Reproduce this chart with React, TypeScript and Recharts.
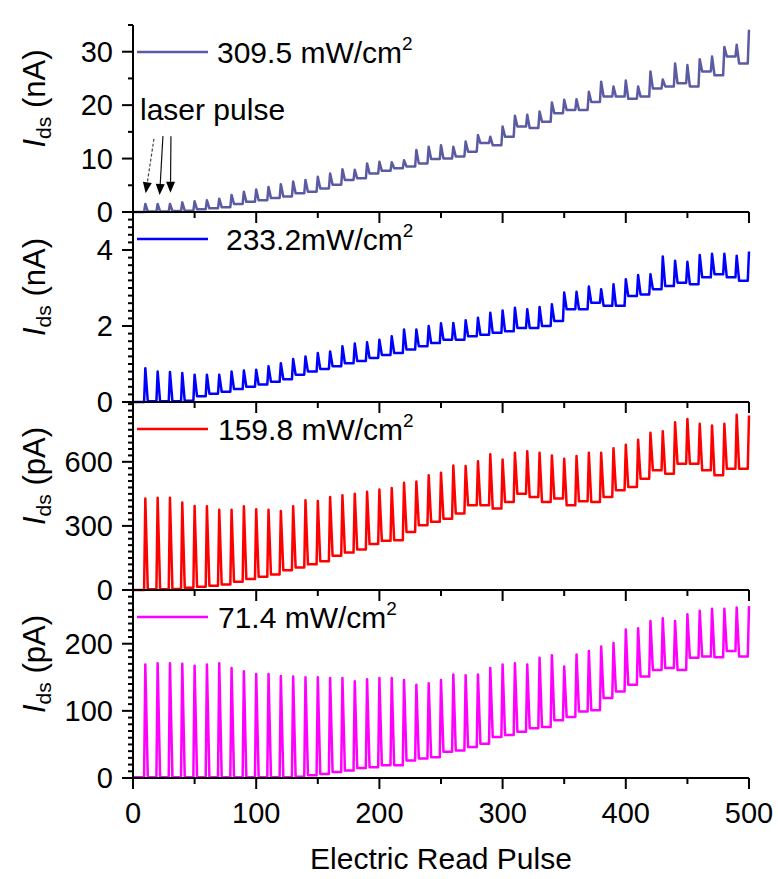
import React from 'react';
import { LineChart, Line, XAxis, YAxis, Legend, ReferenceLine } from 'recharts';

// ---------- data ----------
const pulseX = [10, 20, 30, 40, 50, 60, 70, 80, 90, 100, 110, 120, 130, 140, 150, 160, 170, 180, 190, 200,
  210, 220, 230, 240, 250, 260, 270, 280, 290, 300, 310, 320, 330, 340, 350, 360, 370, 380, 390, 400,
  410, 420, 430, 440, 450, 460, 470, 480, 490, 500];

const xMajorTicks = [0, 100, 200, 300, 400, 500];
const xMinorTicks = [50, 150, 250, 350, 450];

const seriesNames = ['309.5 mW/cm²', '233.2mW/cm²', '159.8 mW/cm²', '71.4 mW/cm²'];
const seriesUnits = ['nA', 'nA', 'pA', 'pA'];

// 309.5 mW/cm2 (nA): peak at each laser pulse, settled value after each pulse (first = start)
const p1Peak = [1.5, 1.5, 1.5, 1.8, 2.0, 2.2, 2.5, 3.2, 3.8, 4.2,
  4.7, 5.2, 5.7, 6.0, 6.6, 7.2, 8.0, 7.9, 9.1, 9.4,
  9.3, 9.7, 11.6, 12.2, 12.5, 12.2, 13.2, 14.4, 14.1, 16.0,
  18.0, 18.2, 18.8, 20.5, 21.0, 21.1, 22.5, 24.4, 23.5, 24.6,
  23.5, 26.3, 24.8, 27.8, 27.5, 28.6, 29.1, 30.9, 31.3, 34.1];
const p1Base = [0.0, 0.1, 0.1, 0.2, 0.25, 0.5, 0.7, 0.9, 1.5, 1.9,
  2.2, 2.6, 2.9, 3.5, 3.8, 4.4, 5.1, 6.0, 6.3, 7.2,
  7.7, 8.2, 8.5, 9.1, 9.9, 10.0, 10.4, 11.3, 12.9, 12.5,
  14.1, 16.0, 15.7, 16.9, 18.5, 19.1, 19.1, 20.6, 21.6, 21.6,
  21.2, 21.6, 23.1, 23.5, 24.1, 23.5, 26.3, 25.6, 29.1, 27.8];

// 233.2 mW/cm2 (nA)
const p2Peak = [0.89, 0.80, 0.79, 0.76, 0.72, 0.72, 0.72, 0.80, 0.83, 0.85,
  0.94, 1.02, 1.13, 1.20, 1.29, 1.33, 1.47, 1.54, 1.57, 1.64,
  1.73, 1.91, 1.91, 2.00, 2.07, 2.08, 2.15, 2.22, 2.35, 2.41,
  2.48, 2.44, 2.50, 2.57, 2.88, 2.90, 3.04, 2.97, 3.10, 3.23,
  3.34, 3.36, 3.83, 3.72, 3.69, 3.87, 3.90, 3.90, 3.85, 3.96];
const p2Base = [0.0, 0.02, 0.02, 0.02, 0.03, 0.15, 0.22, 0.27, 0.34, 0.40,
  0.46, 0.53, 0.60, 0.72, 0.80, 0.87, 0.94, 1.02, 1.08, 1.16,
  1.24, 1.29, 1.38, 1.47, 1.55, 1.64, 1.64, 1.73, 1.77, 1.82,
  1.86, 1.95, 1.95, 2.00, 2.13, 2.44, 2.44, 2.61, 2.53, 2.53,
  2.79, 2.83, 2.97, 3.05, 3.14, 3.10, 3.28, 3.36, 3.28, 3.19];

// 159.8 mW/cm2 (pA)
const p3Peak = [428, 432, 432, 409, 393, 392, 376, 376, 392, 378,
  376, 370, 392, 420, 417, 435, 443, 451, 460, 470,
  477, 502, 508, 537, 549, 583, 580, 603, 635, 611,
  642, 650, 642, 630, 614, 627, 642, 642, 664, 680,
  703, 736, 743, 785, 801, 778, 770, 778, 820, 817];
const p3Base = [0, 3, 3, 5, 11, 15, 20, 26, 39, 51,
  62, 73, 93, 105, 120, 135, 160, 175, 190, 215,
  230, 233, 272, 303, 319, 334, 358, 397, 397, 381,
  412, 451, 435, 412, 428, 397, 415, 412, 435, 467,
  482, 521, 560, 544, 591, 591, 560, 537, 568, 568];

// 71.4 mW/cm2 (pA)
const p4Peak = [169, 171, 171, 170, 167, 169, 171, 164, 159, 155,
  155, 152, 151, 150, 150, 149, 149, 144, 147, 149,
  149, 146, 139, 141, 146, 154, 153, 154, 164, 169,
  171, 169, 179, 183, 166, 184, 189, 196, 201, 221,
  223, 234, 238, 234, 244, 249, 252, 252, 254, 256];
const p4Base = [1, 1, 1, 1, 1, 1, 1, 1, 1, 1,
  1, 1, 1, 2, 4, 6, 9, 11, 15, 16,
  19, 19, 26, 29, 31, 39, 41, 46, 51, 61,
  64, 69, 74, 76, 86, 91, 99, 101, 119, 129,
  139, 151, 161, 164, 161, 179, 181, 180, 189, 181];

// y-axis tick labels per panel
const p1YMajor = [0, 10, 20, 30];
const p2YMajor = [0, 2, 4];
const p3YMajor = [0, 300, 600];
const p4YMajor = [0, 100, 200];

// "laser pulse" arrows (panel 1 data units): start / tip
const arrowStarts = [[17.0, 13.7], [24.3, 14.2], [30.8, 14.2]];
const arrowTips = [[10.3, 3.5], [21.6, 3.2], [30.4, 3.6]];

// ---------- helpers ----------
const FONT = '"Liberation Sans", Arial, Helvetica, sans-serif';
const W = 778;
const RIGHT = 29;
const YAXIS_W = 133;
const Y_TICK_SIZE = 11;
const Y_TICK_MARGIN = 9;
const X_TICK_SIZE = 11;
const X_TICK_MARGIN = 13;
const TICK_FONT = 29;

function buildSeries(base: number[], peak: number[]) {
  const rows: { x: number; y: number }[] = [{ x: 0, y: base[0] }];
  pulseX.forEach((px, k) => {
    rows.push({ x: px - 1, y: base[k] });
    rows.push({ x: px, y: peak[k] });
    if (k + 1 < base.length) rows.push({ x: px + 2, y: base[k + 1] });
  });
  return rows;
}

function buildTicks(max: number, step: number) {
  const out: number[] = [];
  const n = Math.floor(max / step + 1e-6);
  for (let i = 0; i <= n; i++) out.push(Math.round(i * step * 1000) / 1000);
  return out;
}

const XTick = (props: any) => {
  const { x, y, payload, showLabel } = props;
  const axisY = y - X_TICK_SIZE - X_TICK_MARGIN;
  const major = xMajorTicks.includes(payload.value);
  return (
    <g>
      <line x1={x} x2={x} y1={axisY} y2={axisY + (major ? 11 : 6)} stroke="#000" strokeWidth={2} />
      {showLabel && major && (
        <text x={x} y={y} dy="0.71em" textAnchor="middle" fontSize={TICK_FONT} fill="#000" fontFamily={FONT}>
          {payload.value}
        </text>
      )}
    </g>
  );
};

const YTick = (props: any) => {
  const { x, y, payload, majors } = props;
  const axisX = x + Y_TICK_SIZE + Y_TICK_MARGIN;
  const major = majors.some((m: number) => Math.abs(m - payload.value) < 1e-6);
  return (
    <g>
      <line x1={axisX - (major ? 11 : 5)} x2={axisX} y1={y} y2={y} stroke="#000" strokeWidth={2} />
      {major && (
        <text x={x} y={y} dy="0.355em" textAnchor="end" fontSize={TICK_FONT} fill="#000" fontFamily={FONT}>
          {payload.value}
        </text>
      )}
    </g>
  );
};

const ArrowShape = (props: any) => {
  const { x1, y1, x2, y2, dashed } = props;
  if ([x1, y1, x2, y2].some((v) => typeof v !== 'number' || isNaN(v))) return <g />;
  const ang = Math.atan2(y2 - y1, x2 - x1);
  const L = 11;
  const Wd = 4.5;
  const bx = x2 - L * Math.cos(ang);
  const by = y2 - L * Math.sin(ang);
  const pts = `${x2},${y2} ${bx + Wd * Math.sin(ang)},${by - Wd * Math.cos(ang)} ${bx - Wd * Math.sin(ang)},${by + Wd * Math.cos(ang)}`;
  return (
    <g>
      <line x1={x1} y1={y1} x2={bx} y2={by} stroke={dashed ? '#444' : '#111'} strokeWidth={1.2}
        strokeDasharray={dashed ? '3 2' : undefined} />
      <polygon points={pts} fill="#000" />
    </g>
  );
};

type Cfg = {
  top: number; height: number; marginTop: number; xAxisHeight: number;
  domain: [number, number]; majors: number[]; minorStep: number;
  color: string; idx: number; legendTextX: number; showXLabels: boolean;
  topFrame: boolean; data: { x: number; y: number }[]; arrows: boolean;
};

const LegendOverlay = ({ payload, cfg }: any) => {
  const entry = payload && payload[0];
  const name: string = entry ? String(entry.value) : seriesNames[cfg.idx];
  const color: string = entry ? entry.color : cfg.color;
  const base = name.replace('²', '');
  const lineY = cfg.marginTop + 27;
  return (
    <svg width={W} height={cfg.height} style={{ position: 'absolute', left: 0, top: 0, overflow: 'visible', pointerEvents: 'none' }}>
      <line x1={137} x2={208} y1={lineY} y2={lineY} stroke={color} strokeWidth={2.5} />
      <text x={cfg.legendTextX} y={lineY + 11} fontSize={30} fill="#000" fontFamily={FONT}>
        {base}
        <tspan fontSize={19} dy={-13}>2</tspan>
      </text>
      {cfg.arrows && (
        <text x={140} y={120} fontSize={30} fill="#000" fontFamily={FONT}>laser pulse</text>
      )}
    </svg>
  );
};

function Panel({ cfg }: { cfg: Cfg }) {
  const plotH = cfg.height - cfg.marginTop - cfg.xAxisHeight;
  const yTicks = buildTicks(cfg.domain[1], cfg.minorStep);
  const xTicks = [...xMajorTicks, ...xMinorTicks].sort((a, b) => a - b);
  const unit = seriesUnits[cfg.idx];
  const labelCy = cfg.marginTop + plotH / 2 - 20;
  const labelX = 45;
  return (
    <div style={{ position: 'absolute', left: 0, top: cfg.top }}>
      <LineChart width={W} height={cfg.height} data={cfg.data}
        margin={{ top: cfg.marginTop, right: RIGHT, bottom: 0, left: 0 }}>
        <XAxis dataKey="x" type="number" domain={[0, 500]} ticks={xTicks} interval={0}
          height={cfg.xAxisHeight} tickSize={X_TICK_SIZE} tickMargin={X_TICK_MARGIN} tickLine={false}
          axisLine={{ stroke: '#000', strokeWidth: 2 }}
          tick={(p: any) => <XTick {...p} showLabel={cfg.showXLabels} />}
          label={cfg.showXLabels ? (() => (
            <text x={YAXIS_W + (W - RIGHT - YAXIS_W) / 2} y={cfg.marginTop + plotH + 91} textAnchor="middle"
              fontSize={30} fill="#000" fontFamily={FONT}>Electric Read Pulse</text>
          )) : undefined}
        />
        {cfg.topFrame && (
          <XAxis xAxisId="top" orientation="top" dataKey="x" type="number" domain={[0, 500]} height={0}
            tick={false} tickLine={false} axisLine={{ stroke: '#000', strokeWidth: 2 }} />
        )}
        <YAxis type="number" domain={cfg.domain} ticks={yTicks} interval={0} width={YAXIS_W}
          tickSize={Y_TICK_SIZE} tickMargin={Y_TICK_MARGIN} tickLine={false}
          axisLine={{ stroke: '#000', strokeWidth: 2 }}
          tick={(p: any) => <YTick {...p} majors={cfg.majors} />}
          label={() => (
            <text transform={`rotate(-90, ${labelX}, ${labelCy})`} x={labelX} y={labelCy} textAnchor="middle"
              fontSize={31} fill="#000" fontFamily={FONT}>
              <tspan fontStyle="italic">I</tspan>
              <tspan fontSize={21} dy={6}>ds</tspan>
              <tspan dy={-6}>{` (${unit})`}</tspan>
            </text>
          )}
        />
        <YAxis yAxisId="r" orientation="right" type="number" domain={cfg.domain} width={0}
          tick={false} tickLine={false} axisLine={{ stroke: '#000', strokeWidth: 2 }} />
        <Line type="linear" dataKey="y" name={seriesNames[cfg.idx]} stroke={cfg.color} strokeWidth={2.5}
          strokeLinejoin="round" dot={false} activeDot={false} isAnimationActive={false} />
        {cfg.arrows && arrowStarts.map((s, i) => (
          <ReferenceLine key={i} segment={[{ x: s[0], y: s[1] }, { x: arrowTips[i][0], y: arrowTips[i][1] }]}
            ifOverflow="visible" shape={(p: any) => <ArrowShape {...p} dashed={i === 0} />} />
        ))}
        <Legend verticalAlign="middle" align="center" layout="horizontal"
          wrapperStyle={{ position: 'absolute', left: 0, top: 0, width: 0, height: 0 }}
          content={(p: any) => <LegendOverlay payload={p.payload} cfg={cfg} />} />
      </LineChart>
    </div>
  );
}

const panels: Cfg[] = [
  { top: 0, height: 240, marginTop: 25, xAxisHeight: 28, domain: [0, 35], majors: p1YMajor, minorStep: 5,
    color: '#5B5BA3', idx: 0, legendTextX: 217, showXLabels: false, topFrame: true,
    data: buildSeries(p1Base, p1Peak), arrows: true },
  { top: 200, height: 230, marginTop: 12, xAxisHeight: 28, domain: [0, 5], majors: p2YMajor, minorStep: 0.2,
    color: '#0000FF', idx: 1, legendTextX: 226, showXLabels: false, topFrame: false,
    data: buildSeries(p2Base, p2Peak), arrows: false },
  { top: 390, height: 228, marginTop: 12, xAxisHeight: 28, domain: [0, 880], majors: p3YMajor, minorStep: 30,
    color: '#FF0000', idx: 2, legendTextX: 218, showXLabels: false, topFrame: false,
    data: buildSeries(p3Base, p3Peak), arrows: false },
  { top: 578, height: 301, marginTop: 12, xAxisHeight: 101, domain: [0, 280], majors: p4YMajor, minorStep: 10,
    color: '#FF00FF', idx: 3, legendTextX: 218, showXLabels: true, topFrame: false,
    data: buildSeries(p4Base, p4Peak), arrows: false },
];

export default function App() {
  return (
    <div style={{ position: 'absolute', left: 0, top: 0, width: W, height: 879, background: '#fff',
      fontFamily: FONT, overflow: 'hidden' }}>
      {panels.map((cfg, i) => <Panel key={i} cfg={cfg} />)}
    </div>
  );
}
